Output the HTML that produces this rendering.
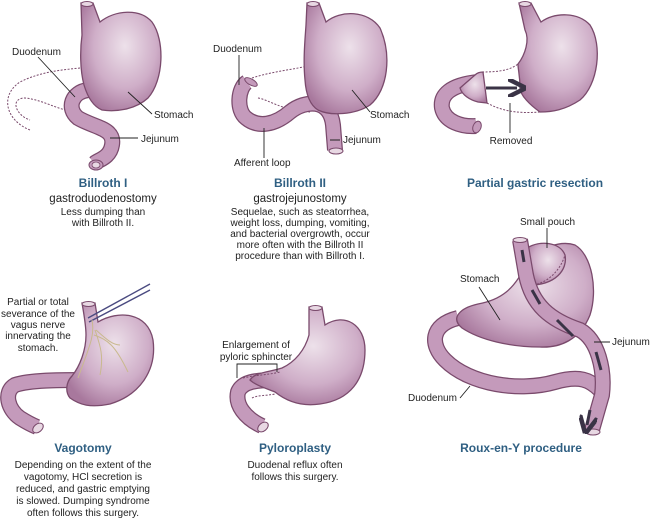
<!DOCTYPE html>
<html><head><meta charset="utf-8"><style>
html,body{margin:0;padding:0;background:#fff;width:650px;height:519px;overflow:hidden}
svg{display:block}
text{font-family:"Liberation Sans",sans-serif;font-size:10px;fill:#222}
.t{font-weight:bold;font-size:12px;fill:#2f5f82}
.s{font-size:11.5px}
.tb{fill:none;stroke:#7a4a6c;stroke-width:16;stroke-linecap:butt}
.ti{fill:none;stroke:#c49abb;stroke-width:13.5;stroke-linecap:butt}
.st{fill:url(#g);stroke:#7a4a6c;stroke-width:1.3}
.d{fill:none;stroke:#7a4a6c;stroke-width:1;stroke-dasharray:2 1.5}
.l{stroke:#222;stroke-width:0.9;fill:none}
.ar{fill:none;stroke:#3a3346;stroke-width:3}
</style></head><body>
<svg width="650" height="519" viewBox="0 0 650 519">
<defs>
<radialGradient id="g" cx="0.55" cy="0.4" r="0.65"><stop offset="0" stop-color="#ede1ea"/><stop offset="0.6" stop-color="#cfaec8"/><stop offset="1" stop-color="#a8789d"/></radialGradient>
<marker id="ah" markerWidth="6" markerHeight="6" refX="3" refY="3" orient="auto"><path d="M0,0 L6,3 L0,6" fill="none" stroke="#3a3346" stroke-width="1.5"/></marker>
</defs>

<!-- Panel 1 Billroth I -->
<path class="d" d="M80,68 C60,70 40,72 20,82 C0,95 5,120 30,130"/>
<path class="d" d="M80,112 C60,112 45,100 25,98 C10,98 15,115 30,120"/>
<path class="tb" d="M88,90 C72,92 66,108 78,118 C95,128 115,128 112,145 C110,158 98,160 95,163"/>
<path class="ti" d="M88,90 C72,92 66,108 78,118 C95,128 115,128 112,145 C110,158 98,160 95,163"/>
<ellipse cx="96" cy="165" rx="7" ry="5" fill="#c49abb" stroke="#7a4a6c"/>
<ellipse cx="96" cy="165" rx="4" ry="3" fill="#e8d8e3" stroke="#7a4a6c" stroke-width="0.8"/>
<path class="st" d="M81,3 L93,3 L100,22 C115,10 140,8 152,22 C165,40 164,80 148,98 C135,110 115,112 102,110 C92,106 87,95 84,85 C80,70 80,50 82,35 Z"/>
<ellipse cx="87" cy="4" rx="6" ry="2.5" fill="#e8d8e3" stroke="#7a4a6c"/>
<path class="l" d="M38,57 L75,97 M128,92 L152,114 M110,138 L138,138"/>
<text x="12" y="55">Duodenum</text><text x="154" y="118">Stomach</text><text x="141" y="142">Jejunum</text>
<text class="t" x="103" y="187" text-anchor="middle">Billroth I</text>
<text class="s" x="103" y="202" text-anchor="middle">gastroduodenostomy</text>
<text x="103" y="215" text-anchor="middle">Less dumping than</text>
<text x="103" y="226" text-anchor="middle">with Billroth II.</text>

<!-- Panel 2 Billroth II -->
<path class="d" d="M252,78 C270,72 290,70 308,66"/>
<path class="d" d="M258,98 C270,100 280,110 310,112"/>
<path class="tb" d="M247,82 C238,88 236,110 246,118 C258,128 275,125 290,112 C305,100 330,98 333,125 L335,150"/>
<path class="ti" d="M247,82 C238,88 236,110 246,118 C258,128 275,125 290,112 C305,100 330,98 333,125 L335,150"/>
<ellipse cx="336" cy="151" rx="7" ry="3" fill="#e8d8e3" stroke="#7a4a6c"/>
<ellipse cx="251" cy="82" rx="3" ry="7" fill="#c49abb" stroke="#7a4a6c" transform="rotate(-60 251 82)"/>
<path class="st" d="M307,3 L319,3 L326,22 C340,10 368,10 380,28 C392,55 388,90 370,105 C355,115 330,116 318,110 C310,105 306,95 305,80 C303,60 305,40 306,25 Z"/>
<ellipse cx="313" cy="4" rx="6" ry="2.5" fill="#e8d8e3" stroke="#7a4a6c"/>
<path class="l" d="M239,55 L239,85 M264,128 L264,158 M352,90 L370,112 M330,140 L340,140"/>
<text x="213" y="52">Duodenum</text><text x="370" y="118">Stomach</text><text x="343" y="143">Jejunum</text><text x="234" y="166">Afferent loop</text>
<text class="t" x="300" y="187" text-anchor="middle">Billroth II</text>
<text class="s" x="300" y="202" text-anchor="middle">gastrojejunostomy</text>
<text x="300" y="215" text-anchor="middle">Sequelae, such as steatorrhea,</text>
<text x="300" y="226" text-anchor="middle">weight loss, dumping, vomiting,</text>
<text x="300" y="237" text-anchor="middle">and bacterial overgrowth, occur</text>
<text x="300" y="248" text-anchor="middle">more often with the Billroth II</text>
<text x="300" y="259" text-anchor="middle">procedure than with Billroth I.</text>

<!-- Panel 3 Partial gastric resection -->
<path class="d" d="M482,72 C500,72 510,70 518,64 M487,103 C500,110 515,114 540,112"/>
<path class="tb" d="M478,82 C450,85 440,95 442,108 C445,122 462,127 476,126"/>
<path class="ti" d="M478,82 C450,85 440,95 442,108 C445,122 462,127 476,126"/>
<path class="st" d="M475,75 C478,72 481,72 483,72 L487,103 L478,102 C470,100 462,95 460,88 Z"/>
<ellipse cx="477" cy="127" rx="4" ry="6" fill="#c49abb" stroke="#7a4a6c" transform="rotate(20 477 127)"/>
<path class="st" d="M519,3 L531,3 L541,22 C555,12 578,12 590,25 C603,45 598,85 580,100 C565,110 552,112 540,112 C530,105 520,95 520,88 C520,75 518,70 518,64 C525,55 530,40 525,30 Z"/>
<ellipse cx="525" cy="4" rx="6" ry="2.5" fill="#e8d8e3" stroke="#7a4a6c"/>
<path d="M486,88 L517,88" stroke="#3a3346" stroke-width="3" marker-end="url(#ah)"/>
<path class="l" d="M510,103 L510,133"/>
<text x="511" y="144" text-anchor="middle">Removed</text>
<text class="t" x="535" y="187" text-anchor="middle">Partial gastric resection</text>

<!-- Panel 4 Vagotomy -->
<path class="tb" d="M82,380 C60,380 30,380 15,385 C3,392 8,410 20,418 C28,423 32,425 37,427"/>
<path class="ti" d="M82,380 C60,380 30,380 15,385 C3,392 8,410 20,418 C28,423 32,425 37,427"/>
<ellipse cx="38" cy="428" rx="4" ry="6" fill="#e8d8e3" stroke="#7a4a6c" transform="rotate(50 38 428)"/>
<path class="st" d="M82,303 L95,303 L98,322 C118,310 148,312 153,340 C157,370 140,395 110,404 C90,408 80,405 70,398 C65,392 66,382 72,376 C80,366 86,350 86,335 C86,325 84,315 82,303 Z"/>
<ellipse cx="88.5" cy="304" rx="6.5" ry="2.5" fill="#e8d8e3" stroke="#7a4a6c"/>
<path d="M88,318 L150,284 M89,322 L150,290" stroke="#4a4a80" stroke-width="1.4"/>
<path d="M92,320 C95,335 90,345 78,378 M95,330 C100,345 104,355 100,375 M94,335 C108,340 115,345 128,372 M96,330 C105,338 112,345 120,345" stroke="#c9b98e" stroke-width="1" fill="none"/>
<text x="38" y="305" text-anchor="middle">Partial or total</text><text x="38" y="317" text-anchor="middle">severance of the</text><text x="38" y="328" text-anchor="middle">vagus nerve</text><text x="38" y="339" text-anchor="middle">innervating the</text><text x="38" y="351" text-anchor="middle">stomach.</text>
<text class="t" x="83" y="452" text-anchor="middle">Vagotomy</text>
<text x="83" y="468" text-anchor="middle">Depending on the extent of the</text>
<text x="83" y="480" text-anchor="middle">vagotomy, HCl secretion is</text>
<text x="83" y="492" text-anchor="middle">reduced, and gastric emptying</text>
<text x="83" y="504" text-anchor="middle">is slowed. Dumping syndrome</text>
<text x="83" y="516" text-anchor="middle">often follows this surgery.</text>

<!-- Panel 5 Pyloroplasty -->
<path class="tb" d="M275,380 C255,380 242,382 238,392 C235,405 245,418 262,426"/>
<path class="ti" d="M275,380 C255,380 242,382 238,392 C235,405 245,418 262,426"/>
<ellipse cx="263" cy="427" rx="4" ry="6" fill="#e8d8e3" stroke="#7a4a6c" transform="rotate(50 263 427)"/>
<path class="st" d="M309,307 L322,307 L325,325 C345,312 365,325 365,350 C365,380 350,400 320,404 C300,407 285,400 275,392 C265,388 255,385 250,380 C255,372 270,372 282,368 C295,362 305,350 309,335 Z"/>
<path class="d" d="M243,378 C255,375 268,375 280,372 M252,398 C258,395 265,396 275,394"/>
<ellipse cx="315.5" cy="308" rx="6.5" ry="2.5" fill="#e8d8e3" stroke="#7a4a6c"/>
<path class="l" d="M237,378 L237,364 L277,364 L277,372"/>
<text x="256" y="348" text-anchor="middle">Enlargement of</text><text x="256" y="360" text-anchor="middle">pyloric sphincter</text>
<text class="t" x="295" y="452" text-anchor="middle">Pyloroplasty</text>
<text x="295" y="468" text-anchor="middle">Duodenal reflux often</text>
<text x="295" y="480" text-anchor="middle">follows this surgery.</text>

<!-- Panel 6 Roux-en-Y -->
<path class="tb" d="M458,318 C430,325 430,345 445,360 C470,385 520,392 555,382 C580,375 590,380 600,390"/>
<path class="ti" d="M458,318 C430,325 430,345 445,360 C470,385 520,392 555,382 C580,375 590,380 600,390"/>
<path class="st" d="M527,262 C540,248 560,240 575,245 C592,255 598,290 590,315 C580,340 560,348 540,347 C510,347 480,340 462,328 C450,318 460,308 478,304 C500,300 515,290 527,262 Z"/>
<path class="st" d="M527,248 C540,240 560,242 565,255 C568,270 555,285 530,285 Z"/>
<path class="d" d="M530,285 C545,285 560,272 565,255"/>
<path class="tb" d="M520,240 L526,275 C532,305 550,320 580,330 C598,340 605,370 602,395 L592,430"/>
<path class="ti" d="M520,240 L526,275 C532,305 550,320 580,330 C598,340 605,370 602,395 L592,430"/>
<ellipse cx="593" cy="432" rx="7" ry="3" fill="#e8d8e3" stroke="#7a4a6c"/>
<ellipse cx="520" cy="240" rx="7" ry="2.5" fill="#e8d8e3" stroke="#7a4a6c"/>
<path class="ar" d="M522,250 L524,262 M532,290 L540,304 M557,320 L573,336 M596,352 L601,370 M590,410 L587,425" marker-end="url(#ah)"/>
<path class="l" d="M547,228 L547,248 M479,287 L500,320 M470,386 L460,398 M610,342 L594,342"/>
<text x="520" y="225">Small pouch</text><text x="460" y="282">Stomach</text><text x="612" y="345">Jejunum</text><text x="408" y="401">Duodenum</text>
<text class="t" x="521" y="452" text-anchor="middle">Roux-en-Y procedure</text>
</svg>
</body></html>
